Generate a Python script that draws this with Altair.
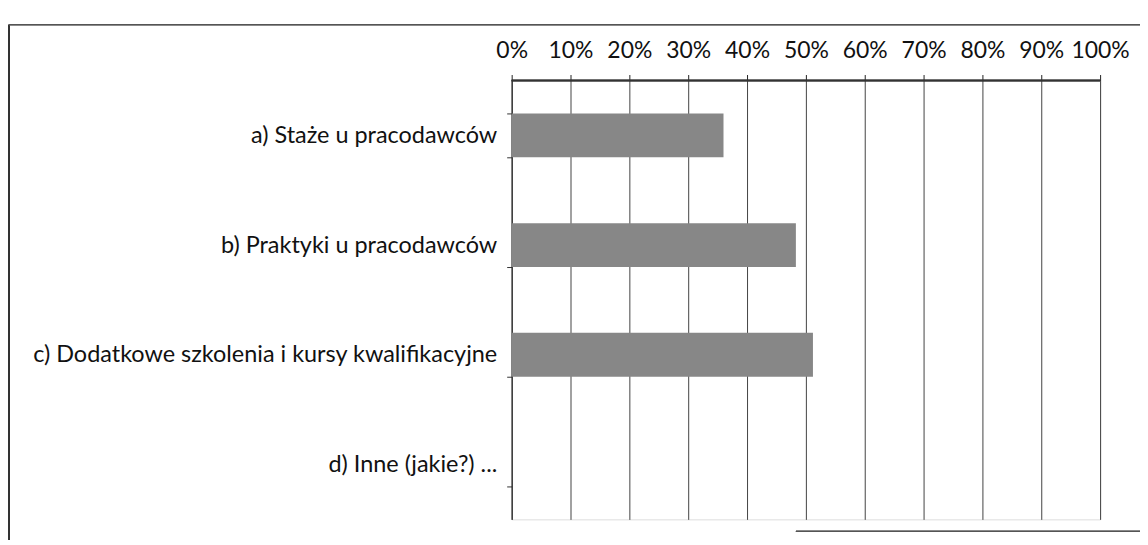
import altair as alt
import pandas as pd

categories = [
    "a) Staże u pracodawców",
    "b) Praktyki u pracodawców",
    "c) Dodatkowe szkolenia i kursy kwalifikacyjne",
    "d) Inne (jakie?) ...",
]
values = [0.36, 0.483, 0.512, 0.0]
x_ticks = [0, 0.1, 0.2, 0.3, 0.4, 0.5, 0.6, 0.7, 0.8, 0.9, 1.0]

df = pd.DataFrame({"cat": categories, "val": values})
FONT = "Lato"

bars = alt.Chart(df).mark_bar(color="#878787").encode(
    x=alt.X(
        "val:Q",
        scale=alt.Scale(domain=[0, 1], nice=False),
        axis=alt.Axis(
            orient="top", format=".0%", values=x_ticks, title=None,
            grid=True, gridColor="#222222", gridWidth=1, gridOpacity=0.85,
            domain=False,
            tickColor="#222222", tickSize=6,
            labelFontSize=23, labelFont=FONT, labelColor="#111111",
            labelPadding=12, labelOverlap=False, labelFlush=False,
        ),
    ),
    y=alt.Y(
        "cat:N", sort=categories,
        scale=alt.Scale(paddingInner=0.6, paddingOuter=0.3),
        axis=alt.Axis(
            title=None, tickBand="extent", tickSize=5, tickColor="#333333",
            domainColor="#222222", labelFontSize=23.5, labelFont=FONT,
            labelColor="#111111", labelPadding=10, grid=False, labelLimit=700,
        ),
    ),
)

top_line = alt.Chart(df).mark_rule(color="#333333", strokeWidth=1.3).encode(
    x=alt.datum(0), x2=alt.datum(1), y=alt.value(0)
)

frame_left = alt.Chart(df).mark_rule(color="#333333", strokeWidth=1.5).encode(
    x=alt.value(-504), y=alt.value(-56), y2=alt.value(530)
)
frame_top = alt.Chart(df).mark_rule(color="#555555", strokeWidth=1.2).encode(
    x=alt.value(-504), x2=alt.value(640), y=alt.value(-56)
)
frame_bottom = alt.Chart(df).mark_rule(color="#555555", strokeWidth=1.2).encode(
    x=alt.value(285), x2=alt.value(640), y=alt.value(452)
)

chart = alt.layer(bars, top_line, frame_left, frame_top, frame_bottom).properties(
    width=590, height=440,
    autosize=alt.AutoSizeParams(type="none"),
    padding={"left": 505, "top": 72, "right": 40, "bottom": 20},
).configure_view(stroke=None).configure(background="white")

chart.save("out.html", embed_options={"renderer": "svg", "actions": False})
